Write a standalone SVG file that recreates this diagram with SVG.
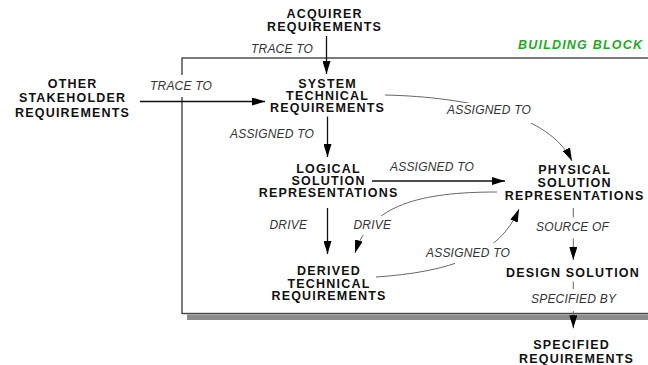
<svg xmlns="http://www.w3.org/2000/svg" width="648" height="365" viewBox="0 0 648 365">
  <style>
    .node { font-family: "Liberation Sans", Arial, Helvetica, sans-serif; font-weight: bold; font-size: 12.5px; letter-spacing: 1.2px; text-anchor: middle; fill: #111; }
    .lbl { font-family: "Liberation Sans", Arial, Helvetica, sans-serif; font-style: italic; font-size: 12px; letter-spacing: 0.2px; fill: #333; }
    .title { font-family: "Liberation Sans", Arial, Helvetica, sans-serif; font-weight: bold; font-style: italic; font-size: 12.5px; letter-spacing: 1.2px; fill: #1faa1f; }
    .solid { fill: none; stroke: #111; stroke-width: 1.3; marker-end: url(#arrow); }
    .soft { fill: none; stroke: #666; stroke-width: 1; marker-end: url(#arrow); }
  </style>
  <defs>
    <marker id="arrow" markerUnits="userSpaceOnUse" markerWidth="13" markerHeight="8" refX="13" refY="4" orient="auto">
      <path d="M0,0 L13,4 L0,8 Z" fill="#000"/>
    </marker>
    <!-- clears the lines behind the italic relation labels -->
    <mask id="gaps" maskUnits="userSpaceOnUse" x="0" y="0" width="648" height="365">
      <rect x="0" y="0" width="648" height="365" fill="#fff"/>
      <rect x="148" y="75" width="66" height="22" fill="#000"/>
      <rect x="444" y="103" width="92" height="20" fill="#000"/>
      <rect x="350" y="216" width="45" height="19" fill="#000"/>
      <rect x="455" y="243" width="45" height="24" fill="#000"/>
      <rect x="534" y="217.5" width="78" height="21" fill="#000"/>
      <rect x="528" y="289" width="90" height="22" fill="#000"/>
    </mask>
  </defs>

  <rect width="648" height="365" fill="#fff"/>

  <!-- building block frame with drop shadow -->
  <g id="building-block">
    <rect x="187" y="314.5" width="470" height="5.5" fill="#8c8c8c"/>
    <rect x="182" y="58" width="480" height="255.5" fill="none" stroke="#444" stroke-width="1.4" mask="url(#gaps)"/>
    <text class="title" x="518" y="49">BUILDING BLOCK</text>
  </g>

  <!-- connectors -->
  <g id="connectors" mask="url(#gaps)">
    <path class="solid" d="M326.5,36 L326.5,74"/>
    <path class="solid" d="M140,101.5 L265,101.5"/>
    <path class="solid" d="M327.5,116.5 L327.5,157"/>
    <path class="soft" d="M385,95 C470,97 550,115 572,161"/>
    <path class="solid" stroke="#333" d="M372,181 L505,181"/>
    <path class="solid" d="M327.5,208 L327.5,254"/>
    <path class="soft" d="M497,192 C420,192 370,205 355,253"/>
    <path class="soft" d="M376,277 C450,272 500,255 519,209"/>
    <path class="soft" d="M573.3,208 L573.3,260"/>
    <path class="soft" d="M573.3,281.5 L573.3,328.3"/>
  </g>

  <!-- relation labels -->
  <g id="labels">
    <text class="lbl" x="251" y="52.5">TRACE TO</text>
    <text class="lbl" x="150" y="90">TRACE TO</text>
    <text class="lbl" x="230" y="138.3">ASSIGNED TO</text>
    <text class="lbl" x="447" y="114.3">ASSIGNED TO</text>
    <text class="lbl" x="390" y="170.5">ASSIGNED TO</text>
    <text class="lbl" x="269.5" y="229.3">DRIVE</text>
    <text class="lbl" x="353.5" y="229.3">DRIVE</text>
    <text class="lbl" x="426" y="256.7">ASSIGNED TO</text>
    <text class="lbl" x="536" y="231">SOURCE OF</text>
    <text class="lbl" x="531" y="303.3">SPECIFIED BY</text>
  </g>

  <!-- nodes -->
  <g id="acquirer-requirements">
    <text class="node" x="324.6" y="18.3">ACQUIRER</text>
    <text class="node" x="324.6" y="31.3">REQUIREMENTS</text>
  </g>
  <g id="other-stakeholder-requirements">
    <text class="node" x="72.6" y="88.3">OTHER</text>
    <text class="node" x="72.6" y="102.3">STAKEHOLDER</text>
    <text class="node" x="72.6" y="117.3">REQUIREMENTS</text>
  </g>
  <g id="system-technical-requirements">
    <text class="node" x="327.6" y="87.5">SYSTEM</text>
    <text class="node" x="327.6" y="100">TECHNICAL</text>
    <text class="node" x="327.6" y="112.3">REQUIREMENTS</text>
  </g>
  <g id="logical-solution-representations">
    <text class="node" x="328.6" y="172.7">LOGICAL</text>
    <text class="node" x="328.6" y="185">SOLUTION</text>
    <text class="node" x="328.6" y="197.3">REPRESENTATIONS</text>
  </g>
  <g id="physical-solution-representations">
    <text class="node" x="574.6" y="174.3">PHYSICAL</text>
    <text class="node" x="574.6" y="186.7">SOLUTION</text>
    <text class="node" x="574.6" y="200">REPRESENTATIONS</text>
  </g>
  <g id="derived-technical-requirements">
    <text class="node" x="329" y="275">DERIVED</text>
    <text class="node" x="329" y="287.7">TECHNICAL</text>
    <text class="node" x="329" y="300">REQUIREMENTS</text>
  </g>
  <g id="design-solution">
    <text class="node" x="573" y="276.5">DESIGN SOLUTION</text>
  </g>
  <g id="specified-requirements">
    <text class="node" x="571.6" y="349.3">SPECIFIED</text>
    <text class="node" x="576.6" y="363.3">REQUIREMENTS</text>
  </g>
</svg>
